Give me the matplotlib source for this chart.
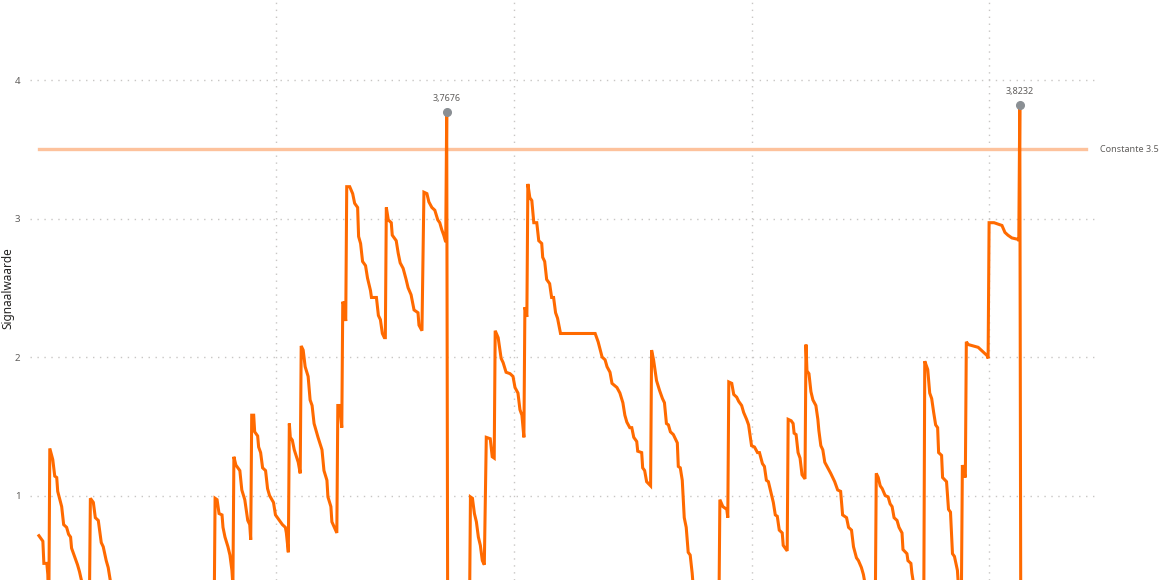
import matplotlib
matplotlib.use("Agg")
import matplotlib.pyplot as plt

# --- Data (hours since start, signal value) ---
uren = [
    0.0, 0.4, 0.5, 0.8, 0.9, 1.0, 1.1, 1.4, 1.6, 1.8, 1.9, 2.3, 2.5, 2.8, 3.0, 3.2, 3.3, 3.6, 3.9, 4.1,
    4.3, 4.5, 4.7, 5.1, 5.2, 5.5, 5.7, 6.0, 6.3, 6.5, 6.8, 7.0, 7.2, 7.5, 8.0, 9.5, 11.0, 11.1, 12.5, 14.0,
    15.5, 15.6, 17.0, 17.7, 17.8, 18.0, 18.2, 18.5, 18.6, 18.8, 19.1, 19.3, 19.5, 19.6, 19.7, 19.9, 20.3, 20.5, 20.8, 21.1,
    21.3, 21.4, 21.5, 21.7, 21.8, 22.1, 22.2, 22.4, 22.6, 22.9, 23.1, 23.3, 23.7, 23.9, 24.3, 24.6, 24.9, 25.0, 25.2, 25.3,
    25.4, 25.6, 25.8, 26.2, 26.4, 26.5, 26.7, 26.9, 27.2, 27.4, 27.6, 27.8, 28.2, 28.6, 28.8, 29.1, 29.2, 29.5, 29.6, 30.1,
    30.2, 30.4, 30.6, 30.7, 30.8, 31.0, 31.1, 31.4, 31.7, 31.9, 32.2, 32.3, 32.5, 32.7, 33.0, 33.2, 33.5, 33.6, 34.1, 34.3,
    34.5, 34.7, 34.9, 35.0, 35.1, 35.3, 35.6, 35.7, 36.1, 36.3, 36.5, 36.8, 37.1, 37.3, 37.6, 37.9, 38.3, 38.4, 38.7, 38.9,
    39.2, 39.4, 39.7, 40.0, 40.3, 40.5, 40.7, 40.9, 41.1, 41.2, 41.3, 42.5, 43.5, 43.6, 43.8, 44.0, 44.2, 44.4, 44.6, 44.8,
    45.0, 45.2, 45.6, 45.8, 46.0, 46.1, 46.4, 46.7, 46.9, 47.2, 47.6, 47.9, 48.1, 48.4, 48.6, 48.8, 49.0, 49.1, 49.3, 49.4,
    49.6, 49.8, 50.0, 50.3, 50.5, 50.8, 50.9, 51.1, 51.3, 51.6, 51.8, 52.0, 52.2, 52.4, 52.7, 56.2, 56.5, 56.9, 57.2, 57.4,
    57.7, 57.9, 58.4, 58.7, 59.0, 59.2, 59.4, 59.7, 59.9, 60.1, 60.4, 60.5, 60.9, 61.0, 61.2, 61.4, 61.8, 61.9, 62.1, 62.4,
    62.7, 63.0, 63.2, 63.4, 63.6, 63.8, 64.1, 64.5, 64.6, 64.8, 65.0, 65.2, 65.4, 65.6, 65.8, 66.0, 66.1, 66.8, 68.0, 68.7,
    68.8, 69.1, 69.5, 69.6, 69.7, 70.0, 70.2, 70.5, 70.7, 71.0, 71.2, 71.5, 71.7, 72.0, 72.3, 72.6, 72.8, 73.1, 73.3, 73.5,
    73.7, 73.9, 74.2, 74.4, 74.6, 74.8, 75.1, 75.2, 75.6, 75.7, 76.0, 76.2, 76.3, 76.5, 76.7, 76.9, 77.1, 77.4, 77.5, 77.6,
    77.8, 78.0, 78.2, 78.5, 78.7, 78.8, 79.0, 79.2, 79.4, 79.7, 80.0, 80.2, 80.4, 80.7, 81.0, 81.2, 81.6, 81.8, 82.1, 82.3,
    82.6, 82.8, 83.1, 83.3, 83.5, 84.0, 84.5, 84.6, 84.8, 85.0, 85.2, 85.5, 85.8, 86.0, 86.2, 86.4, 86.7, 86.9, 87.2, 87.3,
    87.7, 87.8, 88.1, 88.2, 88.4, 89.0, 89.4, 89.5, 89.8, 90.0, 90.2, 90.4, 90.6, 90.8, 90.9, 91.2, 91.3, 91.7, 91.9, 92.1,
    92.3, 92.5, 92.8, 92.9, 93.2, 93.3, 93.4, 93.6, 93.7, 93.9, 94.4, 94.9, 95.2, 95.5, 95.8, 95.9, 96.0, 96.5, 97.3, 97.6,
    97.9, 98.3, 98.9, 99.0, 99.1, 99.2,
]
signaal = [
    0.71, 0.67, 0.51, 0.51, 0.43, 0.17, 1.34, 1.26, 1.14, 1.13, 1.03, 0.92, 0.79, 0.77, 0.72, 0.70, 0.62, 0.56, 0.50, 0.45,
    0.39, 0.28, 0.25, 0.21, 0.98, 0.95, 0.84, 0.82, 0.66, 0.63, 0.53, 0.48, 0.39, 0.28, 0.22, 0.15, 0.10, 0.28, 0.20, 0.12,
    0.06, 0.26, 0.18, 0.10, 0.98, 0.97, 0.87, 0.86, 0.77, 0.70, 0.63, 0.57, 0.46, 0.35, 1.28, 1.22, 1.18, 1.04, 0.97, 0.82,
    0.79, 0.68, 1.58, 1.58, 1.46, 1.43, 1.35, 1.31, 1.20, 1.18, 1.05, 1.00, 0.95, 0.86, 0.82, 0.79, 0.77, 0.73, 0.59, 1.52,
    1.42, 1.40, 1.33, 1.24, 1.16, 2.08, 2.05, 1.93, 1.86, 1.69, 1.65, 1.52, 1.42, 1.33, 1.18, 1.11, 0.99, 0.92, 0.81, 0.73,
    1.65, 1.65, 1.49, 2.40, 2.38, 2.26, 3.23, 3.23, 3.18, 3.11, 3.08, 2.87, 2.82, 2.69, 2.66, 2.57, 2.48, 2.43, 2.43, 2.30,
    2.27, 2.17, 2.14, 2.14, 3.08, 2.99, 2.97, 2.88, 2.84, 2.75, 2.68, 2.64, 2.56, 2.50, 2.45, 2.34, 2.32, 2.23, 2.19, 3.19,
    3.18, 3.12, 3.08, 3.06, 2.99, 2.97, 2.92, 2.88, 2.83, 3.7676, 0.10, 0.20, 0.12, 0.99, 0.98, 0.87, 0.81, 0.70, 0.64, 0.53,
    0.50, 1.42, 1.41, 1.28, 1.27, 2.19, 2.14, 1.99, 1.96, 1.89, 1.88, 1.86, 1.78, 1.74, 1.62, 1.58, 1.42, 2.36, 2.29, 3.25,
    3.15, 3.13, 2.97, 2.97, 2.84, 2.82, 2.72, 2.69, 2.56, 2.53, 2.43, 2.43, 2.32, 2.28, 2.17, 2.17, 2.11, 2.00, 1.98, 1.93,
    1.89, 1.81, 1.78, 1.74, 1.67, 1.58, 1.53, 1.49, 1.49, 1.42, 1.39, 1.32, 1.31, 1.20, 1.18, 1.10, 1.07, 2.05, 1.98, 1.83,
    1.76, 1.70, 1.67, 1.52, 1.51, 1.46, 1.44, 1.38, 1.21, 1.20, 1.11, 0.84, 0.77, 0.59, 0.57, 0.44, 0.35, 0.25, 0.18, 0.14,
    0.97, 0.92, 0.90, 0.84, 1.82, 1.81, 1.73, 1.71, 1.68, 1.65, 1.60, 1.55, 1.51, 1.36, 1.35, 1.31, 1.31, 1.23, 1.21, 1.11,
    1.10, 1.04, 0.95, 0.86, 0.85, 0.75, 0.73, 0.64, 0.60, 1.55, 1.54, 1.52, 1.45, 1.44, 1.31, 1.27, 1.15, 1.12, 2.09, 1.90,
    1.88, 1.75, 1.69, 1.65, 1.55, 1.47, 1.36, 1.33, 1.24, 1.20, 1.16, 1.13, 1.10, 1.04, 1.03, 0.86, 0.84, 0.77, 0.75, 0.63,
    0.55, 0.53, 0.48, 0.43, 0.35, 0.25, 0.18, 1.16, 1.13, 1.07, 1.05, 1.00, 0.99, 0.94, 0.92, 0.84, 0.82, 0.77, 0.73, 0.61,
    0.58, 0.53, 0.51, 0.44, 0.35, 0.25, 0.20, 1.97, 1.91, 1.74, 1.70, 1.60, 1.51, 1.49, 1.31, 1.29, 1.13, 1.10, 0.90, 0.88,
    0.58, 0.56, 0.46, 0.35, 0.28, 1.22, 1.18, 1.13, 2.11, 2.09, 2.08, 2.07, 2.05, 2.03, 2.01, 1.99, 2.97, 2.97, 2.95, 2.90,
    2.88, 2.86, 2.85, 2.84, 3.8232, 0.10,
]
piek_uren = [41.2, 99.1]
piek_waarden = [3.7676, 3.8232]
constante = 3.5
y_ticks = [1, 2, 3, 4]
x_grid = [24, 48, 72, 96]

plt.rcParams['font.family'] = ['Noto Sans', 'DejaVu Sans']

fig = plt.figure(figsize=(11.6, 5.8), dpi=100)
ax = fig.add_axes([30 / 1160, 0.0, 1065 / 1160, 1.0])

ax.plot(uren, signaal, color='#FF6A00', lw=2.2, solid_joinstyle='miter', zorder=3)
ax.axhline(constante, xmin=0.008, xmax=0.992, color='#FDC29C', lw=2.4, zorder=2)
ax.text(1.005, constante, 'Constante 3.5', transform=ax.get_yaxis_transform(),
        va='center', ha='left', fontsize=6.5, color='#605E5C', clip_on=False)

ax.plot(piek_uren, piek_waarden, 'o', color='#8A8F94', ms=5.5, zorder=4)
for px, pv in zip(piek_uren, piek_waarden):
    ax.annotate(f"{pv:.4f}".replace('.', ','), (px, pv), xytext=(0, 6.5),
                textcoords='offset points', ha='center', va='bottom',
                fontsize=6.5, color='#605E5C')

ax.set_xlim(-0.9, 106.7)
ax.set_ylim(0.39, 4.578)
ax.set_yticks(y_ticks)
ax.set_yticklabels([str(t) for t in y_ticks], fontsize=7, color='#605E5C')
ax.set_xticks(x_grid)
ax.set_xticklabels([])
ax.tick_params(length=0, pad=7)
ax.grid(True, color='#C8C6C4', linestyle=(0, (1, 4)), lw=1)
for s in ax.spines.values():
    s.set_visible(False)

fig.text(8 / 1160, 1 - 288 / 580, 'Signaalwaarde', rotation=90, ha='center',
         va='center', fontsize=8.5, color='#252423')

fig.savefig('out.png', dpi=100)
